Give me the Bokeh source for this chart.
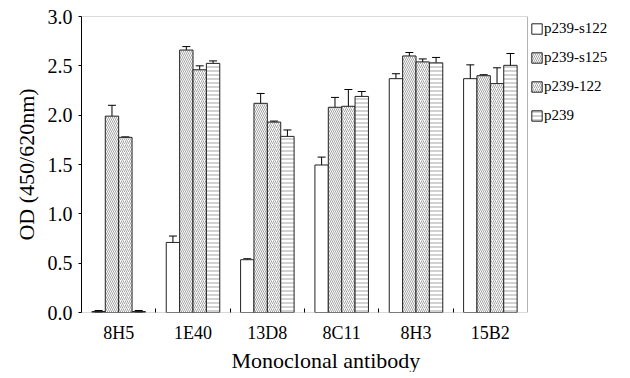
from bokeh.plotting import figure
from bokeh.models import (ColumnDataSource, Whisker, TeeHead, Legend, LegendItem,
                          FixedTicker, NumeralTickFormatter, Range1d, Title, BoxAnnotation)
from bokeh.embed import file_html
from bokeh.resources import INLINE

antibodies = ["8H5", "1E40", "13D8", "8C11", "8H3", "15B2"]
series = ["p239-s122", "p239-s125", "p239-122", "p239"]

s122 = [0.01, 0.71, 0.535, 1.495, 2.37, 2.37]
s122_err = [0.01, 0.065, 0.01, 0.08, 0.05, 0.14]
s125 = [1.99, 2.66, 2.12, 2.08, 2.60, 2.40]
s125_err = [0.11, 0.035, 0.1, 0.1, 0.035, 0.01]
p122 = [1.775, 2.46, 1.93, 2.09, 2.54, 2.32]
p122_err = [0.005, 0.04, 0.01, 0.17, 0.03, 0.16]
p239 = [0.01, 2.525, 1.785, 2.19, 2.53, 2.505]
p239_err = [0.01, 0.025, 0.065, 0.05, 0.055, 0.12]

values = [s122, s125, p122, p239]
errors = [s122_err, s125_err, p122_err, p239_err]
hatches = [" ", "\\", "/", "-"]
offsets = [-0.27, -0.09, 0.09, 0.27]
bar_w = 0.18

FONT = "Liberation Serif"
N = len(antibodies)

# frame is widened to host the legend; the data box spans 0..N
X_END = 7.17

p = figure(width=614, height=372, output_backend="svg", toolbar_location=None,
           x_range=Range1d(0, X_END), y_range=Range1d(0, 3),
           min_border_left=81, min_border_top=16, min_border_right=0, min_border_bottom=59)
p.xgrid.grid_line_color = None
p.ygrid.grid_line_color = None
p.outline_line_color = None
p.background_fill_color = "white"

box = BoxAnnotation(left=0, right=N, bottom=0, top=3, fill_alpha=0,
                    line_color="black", line_width=1)
p.add_layout(box)

items = []
for k in range(4):
    xs = [i + 0.5 + offsets[k] for i in range(N)]
    src = ColumnDataSource(dict(x=xs, top=values[k],
                                upper=[v + e for v, e in zip(values[k], errors[k])],
                                lower=[v - e for v, e in zip(values[k], errors[k])]))
    r = p.vbar(x="x", top="top", width=bar_w, bottom=0, source=src,
               fill_color="white", line_color="#222222", line_width=1,
               hatch_pattern=hatches[k], hatch_color="#9a9a9a", hatch_scale=4,
               hatch_weight=0.9)
    items.append(LegendItem(label=series[k], renderers=[r]))
    w = Whisker(base="x", upper="upper", lower="lower", source=src,
                line_color="black", line_width=1,
                upper_head=TeeHead(size=8, line_color="black", line_width=1),
                lower_head=TeeHead(size=8, line_color="black", line_width=1))
    p.add_layout(w)

legend = Legend(items=items, location=(449, 188), margin=0, padding=0,
                border_line_color=None, background_fill_alpha=0,
                glyph_width=13, glyph_height=13, spacing=12, label_standoff=1,
                label_text_font=FONT, label_text_font_size="15px",
                label_text_color="black")
p.add_layout(legend)

# x axis
xa = p.xaxis[0]
xa.ticker = FixedTicker(ticks=[i + 0.5 for i in range(N)], minor_ticks=list(range(1, N)))
xa.major_label_overrides = {i + 0.5: antibodies[i] for i in range(N)}
xa.major_tick_line_color = None
xa.minor_tick_in = 4
xa.minor_tick_out = 0
xa.minor_tick_line_color = "black"
xa.axis_line_color = None
xa.major_label_text_font = FONT
xa.major_label_text_font_size = "18px"
xa.major_label_text_color = "black"
xa.major_label_standoff = 4

title_x = Title(text="Monoclonal antibody", align="left", offset=150,
                text_font=FONT, text_font_size="22px", text_font_style="normal",
                text_color="black", standoff=0)
p.add_layout(title_x, "below")

# y axis
ya = p.yaxis[0]
ya.ticker = FixedTicker(ticks=[0, 0.5, 1.0, 1.5, 2.0, 2.5, 3.0])
ya.formatter = NumeralTickFormatter(format="0.0")
ya.major_tick_in = 0
ya.major_tick_out = 3
ya.minor_tick_line_color = None
ya.axis_line_color = "black"
ya.major_label_text_font = FONT
ya.major_label_text_font_size = "20px"
ya.major_label_text_color = "black"
ya.major_label_standoff = 6
ya.axis_label = "OD (450/620nm)"
ya.axis_label_text_font = FONT
ya.axis_label_text_font_size = "22px"
ya.axis_label_text_font_style = "normal"
ya.axis_label_text_color = "black"
ya.axis_label_standoff = 6

open("out.html", "w").write(file_html(p, INLINE))
